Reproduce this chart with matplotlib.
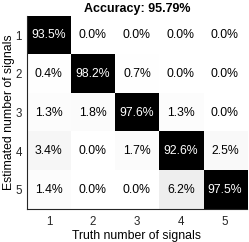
import numpy as np
import matplotlib.pyplot as plt

plt.rcParams['font.family'] = ['Liberation Sans', 'DejaVu Sans']

# confusion matrix values (%), rows = estimated, cols = truth
labels = ['1', '2', '3', '4', '5']
conf = np.array([
    [93.5, 0.0, 0.0, 0.0, 0.0],
    [0.4, 98.2, 0.7, 0.0, 0.0],
    [1.3, 1.8, 97.6, 1.3, 0.0],
    [3.4, 0.0, 1.7, 92.6, 2.5],
    [1.4, 0.0, 0.0, 6.2, 97.5],
])
accuracy = 95.79

fig = plt.figure(figsize=(2.49, 2.42), dpi=100)
ax = fig.add_axes([0.108, 0.136, 0.884, 0.798])

ax.imshow(conf, cmap='gray_r', vmin=0, vmax=93, aspect='auto')

for i in range(conf.shape[0]):
    for j in range(conf.shape[1]):
        col = 'white' if conf[i, j] > 50 else 'black'
        ax.text(j, i, f'{conf[i, j]:.1f}%', ha='center', va='center',
                fontsize=8.8, color=col)

ax.set_xticks(range(len(labels)))
ax.set_xticklabels(labels)
ax.set_yticks(range(len(labels)))
ax.set_yticklabels(labels)
ax.tick_params(length=0, labelsize=8.3, pad=3.5, colors='#262626')
ax.tick_params(axis='x', pad=5)

ax.spines['top'].set_visible(False)
ax.spines['right'].set_visible(False)
ax.spines['left'].set_color('#262626')
ax.spines['bottom'].set_color('#262626')

ax.set_xlabel('Truth number of signals', fontsize=8.8, labelpad=1.5)
ax.set_ylabel('Estimated number of signals', fontsize=8.8, labelpad=0.5)
ax.set_title(f'Accuracy: {accuracy:.2f}%', fontsize=9, fontweight='bold', pad=3)

plt.savefig('out.png', dpi=100)
